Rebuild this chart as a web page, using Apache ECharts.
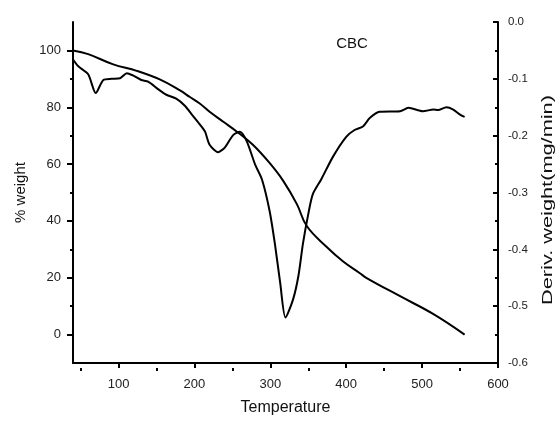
<!DOCTYPE html>
<html>
<head>
<meta charset="utf-8">
<script src="https://cdn.jsdelivr.net/npm/echarts@6/dist/echarts.min.js"></script>
<style>
html,body{margin:0;padding:0;background:#fff;}
#chart{width:556px;height:421px;}
</style>
</head>
<body>
<div id="chart"></div>
<script>
// TGA curve (% weight, left axis)
var tgaTemp   = [40, 60, 93, 124, 155, 181, 194, 207, 220, 238, 256, 277, 299, 317, 335, 348, 374, 396, 418, 427, 471, 515, 556];
var tgaWeight = [100, 98.7, 95.1, 92.8, 89.7, 85.9, 83.6, 81.3, 78.4, 74.9, 71.4, 66.8, 60.4, 54.1, 45.9, 38.2, 30.9, 25.7, 21.6, 19.9, 13.5, 7.2, 0];

// Derivative curve (mg/min, right axis)
var dtgTemp  = [40, 47, 60, 70, 80, 91, 102, 111, 119, 130, 139, 152, 163, 176, 187, 198, 207, 214, 220, 231, 240, 251, 260, 269, 280, 289, 299, 306, 313, 320, 330, 337, 343, 350, 356, 367, 383, 400, 411, 422, 431, 444, 471, 482, 501, 515, 521, 532, 541, 550, 556];
var dtgValue = [-0.066, -0.078, -0.092, -0.125, -0.102, -0.100, -0.099, -0.090, -0.094, -0.102, -0.105, -0.118, -0.128, -0.135, -0.147, -0.165, -0.180, -0.193, -0.216, -0.229, -0.221, -0.199, -0.193, -0.210, -0.251, -0.277, -0.332, -0.390, -0.459, -0.520, -0.488, -0.447, -0.390, -0.338, -0.303, -0.277, -0.236, -0.202, -0.190, -0.184, -0.169, -0.158, -0.157, -0.151, -0.157, -0.154, -0.155, -0.150, -0.154, -0.163, -0.167];

// Tick values
var xMajor = [100, 200, 300, 400, 500, 600];
var xMinor = [50, 150, 250, 350, 450, 550];
var yMajor = [0, 20, 40, 60, 80, 100];
var yMinor = [10, 30, 50, 70, 90];

function zip(a, b) { return a.map(function (v, i) { return [v, b[i]]; }); }

var FONT = "'Liberation Sans', Arial, sans-serif";
var GRID_TOP = 22, GRID_BOTTOM = 53, H = 421;
var chart = echarts.init(document.getElementById('chart'), null, {renderer: 'canvas'});
chart.setOption({
  animation: false,
  backgroundColor: '#fff',
  grid: {left: 73, right: 58, top: GRID_TOP, bottom: GRID_BOTTOM},
  xAxis: [{
    type: 'value', min: 40, max: 600, position: 'bottom',
    axisLine: {onZero: false, lineStyle: {color: '#000', width: 2}},
    axisTick: {customValues: xMajor, length: 5, lineStyle: {color: '#000', width: 2}},
    axisLabel: {customValues: xMajor, fontSize: 13, color: '#222', margin: 15, fontFamily: FONT},
    splitLine: {show: false},
    name: 'Temperature', nameLocation: 'middle', nameGap: 37,
    nameTextStyle: {fontSize: 16, color: '#111', fontFamily: FONT}
  }, {
    // minor ticks: placed at top, then shifted down onto the bottom axis line
    type: 'value', min: 40, max: 600, position: 'top',
    offset: -(H - GRID_TOP - GRID_BOTTOM),
    axisLine: {show: false, onZero: false},
    axisTick: {customValues: xMinor, inside: true, length: 3, lineStyle: {color: '#000', width: 2}},
    axisLabel: {show: false},
    splitLine: {show: false}
  }],
  yAxis: [{
    type: 'value', min: -10, max: 110, position: 'left',
    axisLine: {show: true, onZero: false, lineStyle: {color: '#000', width: 2}},
    axisTick: {show: true, customValues: yMajor, length: 6, lineStyle: {color: '#000', width: 2}},
    axisLabel: {customValues: yMajor, fontSize: 13, color: '#222', margin: 12, fontFamily: FONT},
    splitLine: {show: false},
    name: '% weight', nameLocation: 'middle', nameGap: 44, nameRotate: 90,
    nameTextStyle: {fontSize: 15, color: '#111', fontFamily: FONT}
  }, {
    type: 'value', min: -0.6, max: 0, interval: 0.1, position: 'right',
    axisLine: {show: true, onZero: false, lineStyle: {color: '#000', width: 2}},
    axisTick: {show: true, inside: true, length: 5, lineStyle: {color: '#000', width: 2}},
    minorTick: {show: true, splitNumber: 2, length: 3, lineStyle: {color: '#000', width: 2}},
    axisLabel: {fontSize: 11.5, color: '#222', margin: 10, fontFamily: FONT,
      formatter: function (v) { return v.toFixed(1); }},
    splitLine: {show: false}
  }, {
    type: 'value', min: -10, max: 110, position: 'left',
    axisLine: {show: false, onZero: false},
    axisTick: {show: true, customValues: yMinor, length: 3, lineStyle: {color: '#000', width: 2}},
    axisLabel: {show: false},
    splitLine: {show: false}
  }],
  graphic: [{
    type: 'text', x: 548, y: 200, rotation: Math.PI / 2,
    scaleX: 1.45,
    style: {text: 'Deriv. weight(mg/min)', fill: '#111', font: "15px 'Liberation Sans', Arial, sans-serif",
      textAlign: 'center', textVerticalAlign: 'middle'}
  }, {
    type: 'text', x: 352, y: 44,
    style: {text: 'CBC', fill: '#111', font: "15px 'Liberation Sans', Arial, sans-serif",
      textAlign: 'center', textVerticalAlign: 'middle'}
  }],
  series: [{
    type: 'line', xAxisIndex: 0, yAxisIndex: 0,
    data: zip(tgaTemp, tgaWeight),
    showSymbol: false, smooth: 0.4,
    lineStyle: {color: '#000', width: 2}
  }, {
    type: 'line', xAxisIndex: 0, yAxisIndex: 1,
    data: zip(dtgTemp, dtgValue),
    showSymbol: false, smooth: 0.25,
    lineStyle: {color: '#000', width: 2}
  }]
});
</script>
</body>
</html>
